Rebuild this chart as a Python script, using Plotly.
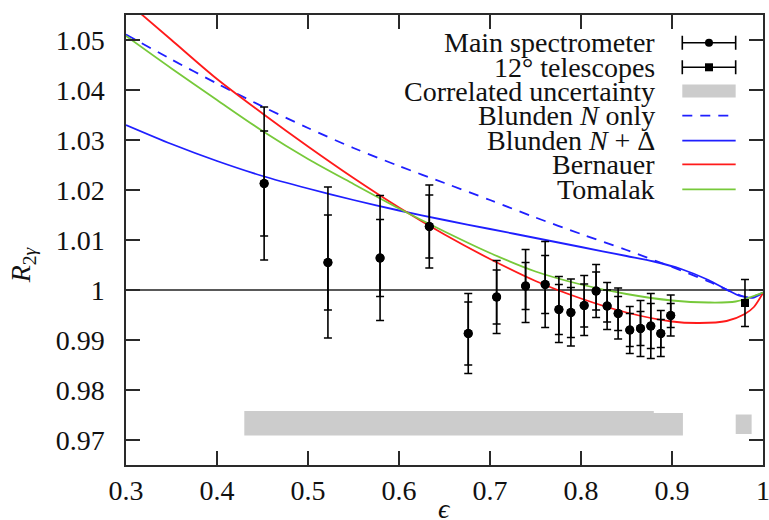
import plotly.graph_objects as go

# ---------------- data ----------------
eps_main = [0.4518, 0.5219, 0.5792, 0.6333, 0.6761, 0.7073, 0.7391, 0.7606, 0.7757, 0.7889,
            0.8035, 0.8166, 0.8287, 0.8408, 0.8536, 0.8654, 0.8767, 0.8877, 0.8986]
r_main = [1.0213, 1.0055, 1.0064, 1.0127, 0.9913, 0.9986, 1.0008, 1.0011, 0.9961, 0.9955,
          0.9969, 0.9998, 0.9968, 0.9953, 0.9920, 0.9923, 0.9928, 0.9913, 0.9949]
err_stat = [0.0105, 0.0095, 0.0077, 0.0063, 0.0063, 0.0054, 0.0047, 0.0058, 0.0050, 0.0050,
            0.0043, 0.0038, 0.0032, 0.0034, 0.0033, 0.0034, 0.0045, 0.0028, 0.0024]
err_tot = [0.0153, 0.0151, 0.0125, 0.0083, 0.0080, 0.0073, 0.0073, 0.0086, 0.0066, 0.0067,
           0.0060, 0.0053, 0.0047, 0.0051, 0.0047, 0.0056, 0.0065, 0.0046, 0.0041]

eps_tel = [0.9802]
r_tel = [0.9974]
err_tel = [0.0047]

# correlated uncertainty bands
corr_main_eps = [0.43, 0.88, 0.88, 0.912]
corr_main_hi = [0.9758, 0.9758, 0.9754, 0.9754]
corr_main_lo = [0.9709, 0.9709, 0.9709, 0.9709]
corr_tel_eps = [0.970, 0.9875]
corr_tel_hi = [0.9751, 0.9751]
corr_tel_lo = [0.9712, 0.9712]

# theory curves
blN_eps = [0.30, 0.35, 0.40, 0.45, 0.50, 0.55, 0.60, 0.65, 0.70, 0.75, 0.80, 0.85, 0.90, 0.94, 0.97, 0.985, 1.0]
blN_r = [1.0511, 1.0461, 1.0413, 1.0367, 1.0324, 1.0284, 1.0248, 1.0214, 1.0180, 1.0145, 1.0112, 1.0080,
         1.0046, 1.0017, 0.9993, 0.9985, 0.9995]

blND_eps = [0.30, 0.35, 0.40, 0.45, 0.50, 0.55, 0.60, 0.65, 0.70, 0.75, 0.80, 0.85, 0.88, 0.91, 0.94, 0.96, 0.975, 0.99, 1.0]
blND_r = [1.0330, 1.0292, 1.0258, 1.0228, 1.0203, 1.0180, 1.0159, 1.0140, 1.0122, 1.0104, 1.0086, 1.0068,
          1.0057, 1.0042, 1.0020, 1.0001, 0.9988, 0.9985, 0.9995]

bern_eps = [0.30, 0.35, 0.40, 0.45, 0.50, 0.55, 0.60, 0.65, 0.70, 0.75, 0.80, 0.85, 0.90, 0.93, 0.96, 0.98, 0.99, 1.0]
bern_r = [1.0578, 1.0500, 1.0422, 1.0353, 1.0287, 1.0224, 1.0165, 1.0111, 1.0062, 1.0018, 0.9983, 0.9955,
          0.9937, 0.9934, 0.9938, 0.9952, 0.9966, 0.9994]

toma_eps = [0.30, 0.35, 0.40, 0.45, 0.50, 0.55, 0.60, 0.65, 0.70, 0.75, 0.80, 0.85, 0.90, 0.94, 0.97, 1.0]
toma_r = [1.0508, 1.0443, 1.0380, 1.0318, 1.0262, 1.0212, 1.0163, 1.0117, 1.0074, 1.0037, 1.0011, 0.9992,
          0.9979, 0.9975, 0.9977, 0.9995]

unity = 1.0

x_ticks = [0.3, 0.4, 0.5, 0.6, 0.7, 0.8, 0.9, 1.0]
x_ticktext = ["0.3", "0.4", "0.5", "0.6", "0.7", "0.8", "0.9", "1"]
y_ticks = [0.97, 0.98, 0.99, 1.0, 1.01, 1.02, 1.03, 1.04, 1.05]
y_ticktext = ["0.97", "0.98", "0.99", "1", "1.01", "1.02", "1.03", "1.04", "1.05"]

legend_labels = ["Main spectrometer", "12° telescopes", "Correlated uncertainty",
                 "Blunden <i>N</i> only", "Blunden <i>N</i> + Δ", "Bernauer", "Tomalak"]

# ---------------- style ----------------
FONT = "Liberation Serif"
FS = 28
TXT = "#111111"
RED = "#ff1a1a"
GREEN = "#77c93a"
BLUE = "#1f1fff"
GRAY = "#cccccc"
AX = "#2a2a2a"
LW = 1.8
SM = 0.8

fig = go.Figure()

# correlated uncertainty
fig.add_trace(go.Scatter(x=corr_main_eps + corr_main_eps[::-1], y=corr_main_lo + corr_main_hi[::-1],
                         fill="toself", fillcolor=GRAY, line=dict(width=0), mode="lines",
                         hoverinfo="skip", showlegend=False))
fig.add_trace(go.Scatter(x=corr_tel_eps + corr_tel_eps[::-1], y=corr_tel_lo + corr_tel_hi[::-1],
                         fill="toself", fillcolor=GRAY, line=dict(width=0), mode="lines",
                         hoverinfo="skip", showlegend=False))

# curves
fig.add_trace(go.Scatter(x=blN_eps, y=blN_r, mode="lines",
                         line=dict(color=BLUE, width=LW, dash="10px,8px", shape="spline", smoothing=SM), showlegend=False))
fig.add_trace(go.Scatter(x=blND_eps, y=blND_r, mode="lines",
                         line=dict(color=BLUE, width=LW, shape="spline", smoothing=SM), showlegend=False))
fig.add_trace(go.Scatter(x=bern_eps, y=bern_r, mode="lines",
                         line=dict(color=RED, width=LW, shape="spline", smoothing=SM), showlegend=False))
fig.add_trace(go.Scatter(x=toma_eps, y=toma_r, mode="lines",
                         line=dict(color=GREEN, width=LW, shape="spline", smoothing=SM), showlegend=False))

# data: total errors (outer caps)
fig.add_trace(go.Scatter(x=eps_main, y=r_main, mode="markers",
                         marker=dict(color="black", size=9),
                         error_y=dict(type="data", array=err_tot, color="black", thickness=1.6, width=4),
                         showlegend=False))
# data: statistical errors (inner caps)
fig.add_trace(go.Scatter(x=eps_main, y=r_main, mode="markers",
                         marker=dict(color="black", size=9),
                         error_y=dict(type="data", array=err_stat, color="black", thickness=1.6, width=4),
                         showlegend=False))
fig.add_trace(go.Scatter(x=eps_tel, y=r_tel, mode="markers",
                         marker=dict(color="black", size=8, symbol="square"),
                         error_y=dict(type="data", array=err_tel, color="black", thickness=1.6, width=4),
                         showlegend=False))

# ---------------- custom gnuplot-style legend ----------------
row_y = [0.9384, 0.8838, 0.8311, 0.7762, 0.7207, 0.6682, 0.6127]
text_x = 0.834
s0, s1 = 0.8733, 0.9571
sc = (s0 + s1) / 2
half = (s1 - s0) / 2

fig.add_trace(go.Scatter(x=[sc], y=[row_y[0]], xaxis="x2", yaxis="y2", mode="markers",
                         marker=dict(color="black", size=8),
                         error_x=dict(type="constant", value=half, color="black", thickness=1.6, width=7),
                         showlegend=False, hoverinfo="skip"))
fig.add_trace(go.Scatter(x=[sc], y=[row_y[1]], xaxis="x2", yaxis="y2", mode="markers",
                         marker=dict(color="black", size=8, symbol="square"),
                         error_x=dict(type="constant", value=half, color="black", thickness=1.6, width=7),
                         showlegend=False, hoverinfo="skip"))

shapes = []
shapes.append(dict(type="rect", xref="paper", yref="paper", x0=s0, x1=s1,
                   y0=row_y[2] - 6.5 / 450, y1=row_y[2] + 6.5 / 450, fillcolor=GRAY, line=dict(width=0)))
line_styles = [(BLUE, "10px,8px"), (BLUE, "solid"), (RED, "solid"), (GREEN, "solid")]
for i, (c, d) in enumerate(line_styles):
    shapes.append(dict(type="line", xref="paper", yref="paper", x0=s0, x1=s1,
                       y0=row_y[3 + i], y1=row_y[3 + i], line=dict(color=c, width=LW, dash=d)))
# unity reference line
shapes.append(dict(type="line", xref="paper", yref="y", x0=0, x1=1, y0=unity, y1=unity,
                   line=dict(color="#222222", width=1.5), layer="below"))

annotations = []
for lbl, yy in zip(legend_labels, row_y):
    annotations.append(dict(text=lbl, x=text_x, y=yy, xref="paper", yref="paper",
                            xanchor="right", yanchor="middle", showarrow=False,
                            font=dict(family=FONT, size=FS, color=TXT)))
# axis titles
annotations.append(dict(text="<i>R</i><sub>2<i>γ</i></sub>", x=-0.163, y=0.444, xref="paper", yref="paper",
                        textangle=-90, showarrow=False, xanchor="center", yanchor="middle",
                        font=dict(family=FONT, size=FS, color=TXT)))
annotations.append(dict(text="<i>ϵ</i>", x=0.5, y=-0.058, xref="paper", yref="paper",
                        showarrow=False, xanchor="center", yanchor="top",
                        font=dict(family=FONT, size=FS, color=TXT)))

axis_common = dict(showgrid=False, zeroline=False, showline=True, linecolor=AX, linewidth=1.5,
                   mirror="ticks", ticks="inside", ticklen=14, tickwidth=1.5, tickcolor=AX,
                   automargin=False, ticklabeloverflow="allow",
                   tickfont=dict(family=FONT, size=FS, color=TXT))

fig.update_layout(
    width=769, height=520,
    margin=dict(l=126, r=6, t=15, b=55),
    paper_bgcolor="white", plot_bgcolor="white",
    showlegend=False,
    xaxis=dict(range=[0.3, 1.0], tickvals=x_ticks, ticktext=x_ticktext, ticklabelstandoff=0, **axis_common),
    yaxis=dict(range=[0.965, 1.055], tickvals=y_ticks, ticktext=y_ticktext, ticklabelstandoff=14, **axis_common),
    xaxis2=dict(overlaying="x", range=[0, 1], visible=False),
    yaxis2=dict(overlaying="y", range=[0, 1], visible=False),
    shapes=shapes,
    annotations=annotations,
)

fig.write_html("out.html")
